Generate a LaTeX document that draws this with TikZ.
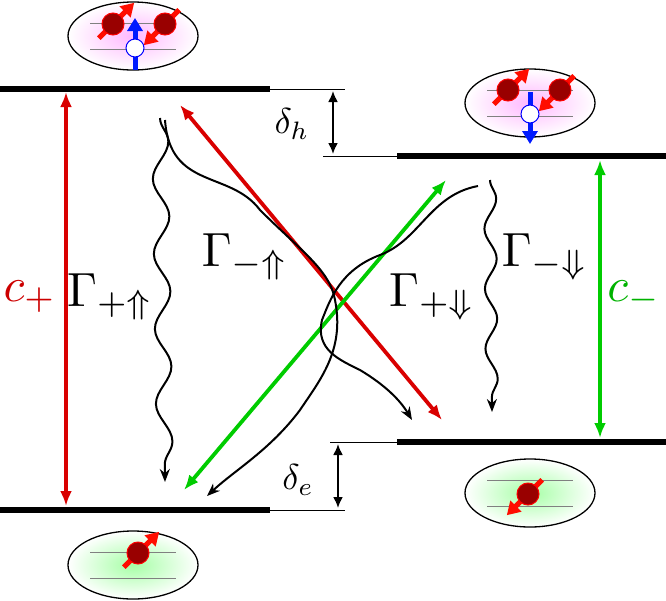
\documentclass[tikz,border=0pt]{standalone}
\usepackage{amssymb,graphicx}
\usetikzlibrary{arrows.meta,decorations.pathmorphing,shapes.geometric}
\begin{document}
\begin{tikzpicture}[x=1pt,y=-1pt,
  level/.style={line width=6pt},
  thinlev/.style={line width=1pt},
  dbl/.style={line width=3.8pt,{Latex[length=15pt,width=12pt]}-{Latex[length=15pt,width=12pt]}},
  dbl2/.style={line width=2pt,{Latex[length=11pt,width=10pt]}-{Latex[length=11pt,width=10pt]}},
  curv/.style={line width=2pt,-{Stealth[length=13pt,width=10pt]}},
  wave/.style={curv,decorate,decoration={snake,segment length=75pt,amplitude=8pt,post length=14pt}},
  lab/.style={inner sep=0pt},
  blob/.style={ellipse,draw=black,line width=1.3pt,minimum width=130pt,minimum height=68pt},
  pinkb/.style={blob,inner color=magenta!28,outer color=white},
  greenb/.style={blob,inner color=green!35,outer color=white},
  spinarr/.style={line width=5pt,-{Triangle[length=13pt,width=15pt]}},
  grid/.style={gray,line width=0.8pt}
]
\useasboundingbox (0,0) rectangle (666,600);
\newcommand\spinmark[3]{%
  \begin{scope}[shift={(#1,#2)},rotate=#3]
  \draw[spinarr,red!90!orange] (0,20)--(0,-30);
  \fill[red!60!black,draw=red,line width=1pt] (0,0) circle (11);
  \end{scope}}
\newcommand\holemark[3]{%
  \begin{scope}[shift={(#1,#2)},rotate=#3]
  \draw[spinarr,blue!90!cyan] (0,22)--(0,-30);
  \fill[white,draw=blue,line width=1pt] (0,0) circle (9);
  \end{scope}}
% ellipses
\node[pinkb] (e1) at (133,36) {};
\node[pinkb] (e2) at (530,103) {};
\node[greenb] (e3) at (133,565) {};
\node[greenb] (e4) at (530,493) {};
\foreach \cx/\cy in {133/36,530/103,133/565,530/493}{
  \draw[grid] (\cx-43,\cy-13)--(\cx+43,\cy-13);
  \draw[grid] (\cx-43,\cy+13)--(\cx+43,\cy+13);}
\spinmark{113}{24}{-45}
\spinmark{165}{24}{135}
\holemark{135}{48}{0}
\spinmark{508}{90}{-45}
\spinmark{560}{90}{135}
\holemark{530}{114}{180}
\spinmark{138}{553}{-45}
\spinmark{528}{494}{135}
% levels
\coordinate (a1) at (0,89); \coordinate (a2) at (270,89); \coordinate (a3) at (345,89);
\coordinate (b0) at (323,156); \coordinate (b1) at (397,156); \coordinate (b2) at (666,156);
\coordinate (c0) at (330,442); \coordinate (c1) at (397,442); \coordinate (c2) at (666,442);
\coordinate (d1) at (0,510); \coordinate (d2) at (270,510); \coordinate (d3) at (345,510);
\draw[level] (a1)--(a2); \draw[thinlev] (a2)--(a3);
\draw[level] (b1)--(b2); \draw[thinlev] (b0)--(b1);
\draw[level] (c1)--(c2); \draw[thinlev] (c0)--(c1);
\draw[level] (d1)--(d2); \draw[thinlev] (d2)--(d3);
% deltas
\coordinate (h1) at (333,91); \coordinate (h2) at (333,154);
\draw[dbl2] (h1)--(h2);
\node[lab] (dh) at (292,124) {\scalebox{3.6}{$\delta_h$}};
\coordinate (g1) at (338,444); \coordinate (g2) at (338,508);
\draw[dbl2] (g1)--(g2);
\node[lab] (de) at (298,480) {\scalebox{3.6}{$\delta_e$}};
% optical
\coordinate (p1) at (66,92); \coordinate (p2) at (66,506);
\draw[dbl,red!85!black] (p1)--(p2);
\node[lab,red!80!black] (cp) at (30,297) {\scalebox{4.8}{$c_+$}};
\coordinate (m1) at (600,160); \coordinate (m2) at (600,438);
\draw[dbl,green!80!black] (m1)--(m2);
\node[lab,green!70!black] (cm) at (634,297) {\scalebox{4.8}{$c_-$}};
\coordinate (r1) at (180,105); \coordinate (r2) at (442,420);
\draw[dbl,red!85!black] (r1)--(r2);
\coordinate (q1) at (446,180); \coordinate (q2) at (184,490);
\draw[dbl,green!80!black] (q1)--(q2);
% relaxations
\coordinate (w1) at (160,118); \coordinate (w1e) at (165,482);
\draw[wave] (w1)--(w1e);
\coordinate (w4) at (490,180); \coordinate (w4e) at (492,412);
\draw[wave,decoration={snake,segment length=60pt,amplitude=6pt,post length=14pt}] (w4)--(w4e);
\coordinate (u1) at (165,120); \coordinate (u2) at (207,496);
\draw[curv] (u1) .. controls (170,190) and (230,170) .. (260,210)
  .. controls (300,250) and (330,270) .. (335,300) .. controls (345,350) and (320,380) .. (300,410)
  .. controls (270,450) and (235,470) .. (u2);
\coordinate (v1) at (478,186); \coordinate (v2) at (412,420);
\draw[curv] (v1) .. controls (430,195) and (420,240) .. (380,255)
  .. controls (340,270) and (330,300) .. (322,320) .. controls (315,350) and (340,360) .. (360,370)
  .. controls (385,385) and (400,400) .. (v2);
% labels
\node[lab] (l1) at (110,297) {\scalebox{4.8}{$\Gamma_{+\Uparrow}$}};
\node[lab] (l2) at (245,257) {\scalebox{4.8}{$\Gamma_{-\Uparrow}$}};
\node[lab] (l3) at (432,297) {\scalebox{4.8}{$\Gamma_{+\Downarrow}$}};
\node[lab] (l4) at (545,257) {\scalebox{4.8}{$\Gamma_{-\Downarrow}$}};
\end{tikzpicture}
\end{document}
